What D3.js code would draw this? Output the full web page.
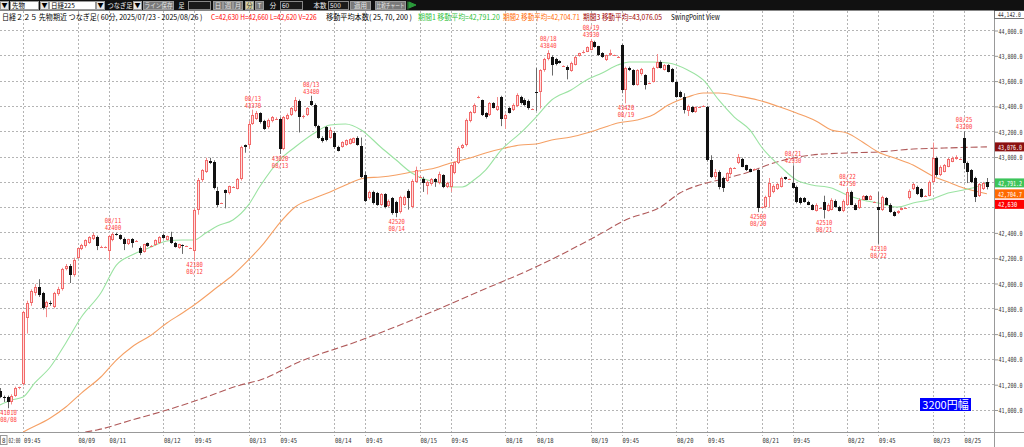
<!DOCTYPE html>
<html><head><meta charset="utf-8">
<script src="https://cdn.jsdelivr.net/npm/d3@7"></script>
<style>
html,body{margin:0;padding:0;background:#fff;overflow:hidden}
svg{display:block}
</style></head><body>
<svg id="c" width="1024" height="447"></svg>
<script>
// ---------- DATA ----------
const opens = [41150,41095,41100,41060,41110,41170,41200,41720,41840,41920,
41970,41920,41810,41845,41810,41915,41955,42110,42135,42065,
42200,42270,42290,42320,42350,42365,42285,42285,42250,42340,
42390,42380,42350,42310,42345,42330,42280,42245,42315,42295,
42300,42315,42380,42340,42365,42320,42275,42300,42290,42275,
42250,42580,42815,42880,42965,42960,42730,42630,42735,42710,
42760,42745,42820,43090,43090,43260,43300,43340,43280,43230,
43280,43300,43300,43060,43300,43330,43360,43440,43310,43330,
43440,43410,43240,43150,43230,43150,43185,43075,43075,43090,
43100,43110,43150,43080,42850,42670,42720,42710,42620,42700,
42610,42670,42640,42560,42620,42730,42600,42800,42840,42825,
42770,42780,42820,42790,42850,42760,42760,42870,42950,43070,
43090,43280,43345,43465,43445,43340,43330,43420,43370,43470,
43300,43385,43370,43400,43470,43450,43440,43375,43510,43510,
43680,43770,43790,43770,43755,43715,43710,43675,43725,43795,
43820,43830,43845,43905,43870,43820,43760,43800,43800,43790,
43880,43525,43700,43685,43565,43650,43645,43580,43590,43700,
43750,43685,43720,43690,43590,43510,43470,43360,43390,43350,
43390,43400,43390,42970,42840,42880,42830,42810,42860,42910,
42950,42980,42930,42900,42900,42890,42600,42600,42680,42720,
42740,42760,42835,42820,42790,42760,42670,42670,42640,42620,
42570,42590,42640,42570,42580,42650,42600,42570,42620,42720,
42620,42590,42660,42690,42660,42640,42600,42580,42670,42620,
42560,42550,42580,42590,42670,42740,42760,42740,42690,42690,
42800,42990,42850,42880,42920,42960,42980,42980,43150,42950,
42890,42830,42690,42740,42800];
const highs = [41170,41110,41110,41120,41180,41180,41780,41860,41950,41990,
42030,41930,41860,41860,41930,41970,42120,42150,42150,42200,
42280,42310,42345,42370,42395,42375,42295,42290,42380,42400,
42395,42385,42360,42350,42355,42340,42290,42310,42320,42300,
42345,42370,42390,42375,42405,42325,42310,42305,42295,42280,
42590,42830,42900,42990,42990,42970,42760,42635,42740,42770,
42765,42830,43085,43095,43280,43370,43360,43350,43290,43300,
43320,43310,43310,43320,43340,43390,43470,43450,43330,43390,
43480,43420,43250,43160,43240,43230,43200,43085,43120,43135,
43145,43150,43160,43150,42880,42730,42730,42720,42710,42710,
42660,42680,42650,42690,42690,42740,42820,42920,42850,42840,
42810,42830,42830,42880,42860,42800,42940,42960,43080,43100,
43300,43360,43420,43480,43450,43350,43430,43430,43470,43480,
43340,43390,43420,43500,43480,43460,43450,43380,43700,43690,
43780,43840,43800,43780,43760,43720,43720,43750,43800,43820,
43840,43870,43930,43915,43875,43825,43805,43845,43805,43795,
43890,43710,43710,43690,43690,43700,43650,43585,43710,43810,
43760,43730,43730,43700,43600,43520,43500,43410,43400,43395,
43395,43405,43400,43010,42900,42890,42840,42875,42915,42915,
43020,42990,42935,42905,42905,42900,42605,42690,42830,42780,
42790,42840,42840,42825,42930,42770,42680,42680,42650,42625,
42630,42595,42690,42630,42670,42660,42610,42660,42750,42730,
42630,42670,42695,42695,42695,42645,42720,42690,42680,42630,
42570,42575,42595,42595,42740,42790,42770,42750,42695,42810,
43110,43000,42930,42940,42990,43000,43010,42985,43200,42960,
42900,42840,42790,42800,42830];
const lows = [41090,41060,41010,41040,41100,41160,41190,41600,41820,41900,
41890,41790,41730,41820,41800,41900,41940,42100,42000,42050,
42190,42260,42280,42310,42340,42260,42280,42275,42180,42330,
42375,42340,42260,42300,42280,42325,42220,42240,42285,42290,
42295,42310,42350,42335,42310,42280,42270,42230,42285,42270,
42180,42540,42800,42870,42940,42740,42600,42625,42590,42700,
42755,42740,42810,43030,43060,43250,43290,43260,43210,43220,
43270,43290,43020,43050,43290,43320,43350,43190,43300,43320,
43400,43230,43140,43110,43120,43140,43060,43040,43070,43085,
43095,43105,43085,42830,42640,42660,42620,42610,42610,42590,
42600,42540,42520,42550,42610,42580,42590,42790,42830,42720,
42700,42770,42760,42780,42750,42750,42720,42860,42940,43060,
43080,43270,43340,43460,43320,43300,43320,43380,43360,43240,
43220,43340,43360,43390,43410,43400,43370,43370,43360,43380,
43670,43760,43640,43720,43735,43710,43610,43670,43720,43790,
43815,43825,43840,43860,43795,43780,43755,43795,43795,43785,
43500,43420,43675,43560,43560,43640,43530,43575,43585,43695,
43695,43680,43665,43585,43465,43465,43340,43320,43345,43345,
43385,43395,42960,42830,42820,42740,42720,42800,42850,42905,
42940,42915,42885,42875,42895,42560,42595,42590,42600,42710,
42735,42755,42815,42815,42745,42630,42620,42635,42615,42575,
42565,42585,42510,42565,42575,42595,42565,42560,42610,42615,
42575,42585,42655,42655,42655,42635,42310,42570,42615,42555,
42525,42545,42575,42585,42660,42735,42695,42675,42685,42685,
42790,42840,42845,42875,42915,42955,42975,42975,42900,42790,
42790,42640,42680,42735,42740];
const closes = [41100,41090,41060,41110,41170,41175,41770,41840,41940,41970,
41905,41800,41850,41840,41920,41955,42110,42135,42065,42180,
42275,42300,42340,42360,42380,42290,42285,42285,42370,42390,
42380,42350,42310,42345,42315,42335,42235,42305,42290,42295,
42340,42365,42355,42370,42315,42285,42305,42290,42290,42275,
42580,42815,42893,42970,42950,42750,42615,42630,42710,42765,
42760,42820,43075,43075,43260,43330,43340,43270,43220,43290,
43310,43300,43060,43310,43330,43380,43450,43310,43320,43380,
43410,43240,43150,43120,43130,43210,43075,43045,43115,43130,
43140,43145,43090,42840,42650,42720,42630,42620,42700,42600,
42650,42550,42550,42680,42680,42670,42810,42890,42840,42790,
42800,42820,42800,42860,42760,42790,42930,42955,43070,43090,
43290,43350,43410,43470,43330,43310,43420,43385,43400,43300,
43330,43345,43410,43490,43420,43405,43380,43375,43500,43680,
43770,43820,43720,43730,43740,43715,43685,43740,43790,43815,
43830,43865,43915,43865,43800,43785,43800,43820,43800,43790,
43525,43700,43680,43565,43685,43690,43565,43580,43700,43750,
43700,43725,43670,43590,43470,43470,43370,43400,43350,43390,
43390,43400,42970,42840,42880,42760,42750,42870,42910,42910,
43000,42920,42890,42880,42900,42590,42600,42680,42790,42770,
42780,42830,42820,42820,42750,42640,42630,42640,42620,42580,
42620,42590,42580,42620,42660,42600,42570,42650,42720,42620,
42580,42660,42690,42660,42690,42640,42580,42680,42620,42560,
42530,42570,42590,42590,42730,42780,42700,42680,42690,42800,
42990,42850,42920,42930,42980,42990,43000,42980,42950,42880,
42800,42680,42780,42790,42760];

// moving averages (bar index, value)
const ma25Idx = [0,3,6,9,13,17,21,26,30,34,39,43,47,50,53,56,60,64,67,72,76,81,85,89,93,98,102,106,110,113,116,119,122,125,129,134,138,142,147,151,155,159,162,168,172,177,181,185,189,193,196,201,205,209,214,218,222,226,231,235,240,244,248,252,254];
const ma25Val = [41036,41075,41099,41210,41336,41526,41731,41921,42142,42221,42285,42332,42340,42340,42395,42451,42498,42617,42767,42972,43075,43186,43249,43257,43210,43075,42972,42870,42814,42798,42759,42759,42814,42893,43051,43186,43312,43447,43526,43605,43660,43723,43747,43747,43739,43684,43605,43447,43312,43210,43075,42917,42814,42775,42751,42696,42656,42632,42601,42632,42664,42711,42735,42767,42791];
const ma70Idx = [6,7,13,17,21,26,30,34,39,43,47,50,56,60,64,68,72,76,81,85,89,94,98,102,106,112,116,121,125,130,134,138,142,147,151,155,159,164,168,172,177,181,185,190,195,200,205,210,214,218,222,226,231,235,240,244,248,252,254];
const ma70Val = [40822,40838,40933,41020,41130,41257,41391,41494,41589,41684,41763,41826,41968,42063,42182,42316,42474,42601,42672,42719,42775,42830,42838,42854,42877,42909,42949,42988,43028,43067,43091,43099,43130,43154,43186,43225,43265,43289,43328,43407,43470,43502,43502,43478,43447,43399,43344,43281,43210,43186,43115,43036,42980,42933,42846,42798,42751,42719,42705];
const ma200Idx = [22,25,34,43,51,62,67,77,93,108,123,139,154,161,170,175,180,185,192,200,209,218,226,235,243,254];
const ma200Val = [40822,40838,40917,40996,41075,41194,41233,41376,41549,41731,41929,42142,42379,42498,42601,42711,42775,42814,42870,42957,43012,43028,43036,43059,43067,43076];

// axis ticks
const priceTicks = [41000,41200,41400,41600,41800,42000,42200,42400,42600,42800,43000,43200,43400,43600,43800,44000];
const tickIdx = [6,20,28,42,50,64,72,86,94,108,116,130,138,152,160,174,182,196,204,218,226,240,248];
const tickLabels = ["09:45","08/09","08/11","08/12","09:45","08/13","09:45","08/14","09:45","08/15","09:45","08/16","08/18","08/19","09:45","08/20","09:45","08/21","09:45","08/22","09:45","08/23","08/25"];

// swing points
const swingIdx   = [2,29,50,65,72,80,102,141,152,161,195,204,212,218,226,248];
const swingDate  = ["08/08","08/11","08/12","08/13","08/13","08/13","08/14","08/18","08/19","08/19","08/20","08/21","08/21","08/22","08/22","08/25"];
const swingPrice = [41010,42400,42180,43370,43020,43480,42520,43840,43930,43420,42560,42930,42510,42750,42310,43200];
const swingType  = ["L","H","L","H","L","H","L","H","H","L","L","H","L","H","L","H"];

// price tags on the right axis
const tagLabels = ["43,076.0","42,791.2","42,704.7","42,630"];
const tagValues = [43076.05,42791.20,42704.71,42630];
const tagColors = ["#8b1010","#3cc45a","#ff6a00","#ff0000"];

// header
const headerTexts = ["日経２２５ 先物期近 つなぎ足( 60分, 2025/07/23 - 2025/08/26 )","C=42,630 H=42,660 L=42,620 V=226","移動平均本数( 25, 70, 200 )","期間1 移動平均=42,791.20","期間2 移動平均=42,704.71","期間3 移動平均=43,076.05","SwingPoint View"];
const headerX0 = [2,211,326,418,503,583,671];
const headerX1 = [203,317,412,500,580,662,720];
const headerColors = ["#000","#ff0000","#000","#2fbf3a","#ff6a00","#a00000","#000"];

// ---------- DRAW ----------
const W = 1024, H = 447, plotR = 994, plotT = 11, plotB = 432;
const svg = d3.select("#c");
const x = d3.scaleLinear().domain([42, 218]).range([163, 847]);
const y = d3.scaleLinear().domain([41000, 44000]).range([409.5, 30]);
const mono = '"DejaVu Sans Mono","Liberation Mono",monospace';
const jp = '"Noto Sans CJK JP","Noto Sans",sans-serif';

// squeeze a text horizontally to a target width (keeps its anchor point)
function squeeze(sel, w) {
  sel.each(function () {
    const n = this.getComputedTextLength();
    if (!n) return;
    const target = typeof w === "function" ? w(this) : w;
    const s = Math.min(1, target / n);
    const tx = +(this.getAttribute("x") || 0), ty = +(this.getAttribute("y") || 0);
    this.setAttribute("x", 0); this.setAttribute("y", 0);
    this.setAttribute("transform", `translate(${tx},${ty}) scale(${s},1)`);
  });
}

svg.append("rect").attr("width", W).attr("height", H).attr("fill", "#fff");
svg.append("defs").append("clipPath").attr("id", "pc")
  .append("rect").attr("x", 0).attr("y", plotT).attr("width", plotR).attr("height", plotB - plotT);

// price tags positions (stacked so they do not overlap)
const tags = tagValues.map((v, k) => ({k, yv: y(v)})).sort((a, b) => a.yv - b.yv);
for (let k = 1; k < tags.length; k++) tags[k].yv = Math.max(tags[k].yv, tags[k - 1].yv + 10.5);

// grid
const grid = svg.append("g").attr("stroke", "#b4b4b4").attr("stroke-dasharray", "2,2");
grid.selectAll(".gh").data(priceTicks).join("line").attr("class", "gh")
  .attr("x1", 0).attr("x2", plotR)
  .attr("y1", d => Math.round(y(d)) + 0.5).attr("y2", d => Math.round(y(d)) + 0.5);
grid.selectAll(".gv").data(tickIdx).join("line").attr("class", "gv")
  .attr("x1", d => Math.round(x(d)) + 0.5).attr("x2", d => Math.round(x(d)) + 0.5)
  .attr("y1", plotT).attr("y2", plotB + 4);

// axes
const gx = svg.append("g").attr("transform", `translate(0,${plotB})`)
  .call(d3.axisBottom(x).tickValues(tickIdx).tickFormat((d, i) => tickLabels[i]).tickSize(0));
gx.select(".domain").remove();
gx.selectAll("text").attr("text-anchor", "start").attr("dy", null).attr("y", 11)
  .attr("x", 0.5).attr("fill", "#333").attr("font-family", mono).attr("font-size", 7);
squeeze(gx.selectAll("text"), 16.5);

const gy = svg.append("g").attr("transform", `translate(${plotR},0)`)
  .call(d3.axisRight(y).tickValues(priceTicks).tickFormat(d3.format(",.1f")).tickSize(4).tickPadding(0.5));
gy.select(".domain").remove();
gy.selectAll("line").attr("stroke", "#999").attr("transform", "translate(0,0.5)");
gy.selectAll("text").attr("fill", "#333").attr("font-family", mono).attr("font-size", 7)
  .attr("dy", null).attr("y", 3)
  .style("display", d => tags.some(t => Math.abs(t.yv - y(d)) < 7) ? "none" : null);
squeeze(gy.selectAll("text"), 24);

svg.append("line").attr("x1", 0).attr("x2", W).attr("y1", plotB + 0.5).attr("y2", plotB + 0.5).attr("stroke", "#999");
svg.append("line").attr("x1", plotR + 0.5).attr("x2", plotR + 0.5).attr("y1", plotT).attr("y2", H).attr("stroke", "#999");

// moving averages
const pg = svg.append("g").attr("clip-path", "url(#pc)");
const line = d3.line().x(d => x(d[0])).y(d => y(d[1])).curve(d3.curveMonotoneX);
pg.append("path").datum(d3.zip(ma200Idx, ma200Val)).attr("d", line).attr("fill", "none")
  .attr("stroke", "#b05a5a").attr("stroke-width", 1.1).attr("stroke-dasharray", "7,3");
pg.append("path").datum(d3.zip(ma70Idx, ma70Val)).attr("d", line).attr("fill", "none")
  .attr("stroke", "#f5a065").attr("stroke-width", 1.1);
pg.append("path").datum(d3.zip(ma25Idx, ma25Val)).attr("d", line).attr("fill", "none")
  .attr("stroke", "#9be3a2").attr("stroke-width", 1.1);

// candles
const bars = d3.range(closes.length).map(i => ({i, o: opens[i], h: highs[i], l: lows[i], c: closes[i]}));
const up = d => d.c >= d.o;
const px = d => Math.round(x(d.i));
pg.selectAll(".wick").data(bars).join("line").attr("class", "wick")
  .attr("x1", d => px(d) + 0.5).attr("x2", d => px(d) + 0.5)
  .attr("y1", d => y(d.h)).attr("y2", d => y(d.l))
  .attr("stroke", d => up(d) ? "#f38a8a" : "#6a6a6a");
pg.selectAll(".body").data(bars).join("rect").attr("class", "body")
  .each(function (d) {
    const top = Math.round(y(Math.max(d.o, d.c)));
    const bot = Math.round(y(Math.min(d.o, d.c)));
    const h = Math.max(1, bot - top);
    const s = d3.select(this);
    if (up(d) && h >= 3) {
      s.attr("x", px(d) - 0.5).attr("y", top + 0.5).attr("width", 2).attr("height", h - 1)
        .attr("fill", "#ffdede").attr("stroke", "#f26a6a");
    } else {
      s.attr("x", px(d) - 1).attr("y", top).attr("width", 3).attr("height", h)
        .attr("fill", up(d) ? "#f26a6a" : "#111");
    }
  });

// swing labels
const sw = svg.append("g").attr("fill", "#ff3c3c").attr("font-family", mono).attr("font-size", 7)
  .attr("text-anchor", "middle");
swingIdx.forEach((si, k) => {
  const cx = x(si) + 0.5, yy = y(swingPrice[k]);
  const lines = swingType[k] === "H"
    ? [[swingDate[k], yy - 9], [String(swingPrice[k]), yy - 2]]
    : [[String(swingPrice[k]), yy + 7], [swingDate[k], yy + 14]];
  lines.forEach(([t, by]) => sw.append("text").attr("x", Math.max(cx, 8.5)).attr("y", by).text(t));
});
squeeze(sw.selectAll("text"), 16.5);

// right price tags
const tg = svg.append("g");
tags.forEach(t => {
  tg.append("rect").attr("x", plotR + 1).attr("y", t.yv - 4.5).attr("width", W - plotR - 1).attr("height", 9)
    .attr("fill", tagColors[t.k]);
  tg.append("text").attr("class", "tagt").attr("x", plotR + 4).attr("y", t.yv + 3).text(tagLabels[t.k])
    .attr("fill", "#fff").attr("font-family", mono).attr("font-size", 7);
});
squeeze(tg.selectAll(".tagt"), el => Math.min(24, el.textContent.length * 3.2));
// top range label
tg.append("rect").attr("x", plotR + 0.5).attr("y", 10.5).attr("width", 40).attr("height", 8)
  .attr("fill", "#fff").attr("stroke", "#777");
squeeze(tg.append("text").attr("x", plotR + 4).attr("y", 17).text(d3.format(",.1f")(44142))
  .attr("fill", "#333").attr("font-family", mono).attr("font-size", 6.5), 23);

// 3200円幅 box
svg.append("rect").attr("x", 919.5).attr("y", 397.5).attr("width", 52).attr("height", 14)
  .attr("fill", "#0000ff").attr("stroke", "#fff");
svg.append("text").attr("x", 945.5).attr("y", 408.5).attr("text-anchor", "middle").text("3200円幅")
  .attr("fill", "#fff").attr("font-family", jp).attr("font-size", 11);

// bottom-left cursor tag
svg.append("rect").attr("x", 0.5).attr("y", 435.5).attr("width", 6.5).attr("height", 9).attr("fill", "none").attr("stroke", "#999");
squeeze(svg.append("text").attr("x", 2).attr("y", 443).text("8").attr("fill", "#333").attr("font-family", mono).attr("font-size", 7), 3.5);
squeeze(svg.append("text").attr("x", 8.5).attr("y", 443).text("02:00").attr("fill", "#333").attr("font-family", mono)
  .attr("font-size", 7), 12);

// header
const hg = svg.append("g").attr("font-size", 7.5);
headerTexts.forEach((t, k) => {
  squeeze(hg.append("text").attr("x", headerX0[k]).attr("y", 19.5).text(t).attr("fill", headerColors[k])
    .attr("font-family", jp), headerX1[k] - headerX0[k]);
});

// toolbar
const tb = svg.append("g");
tb.append("rect").attr("x", 0).attr("y", 0).attr("width", W).attr("height", 10.5).attr("fill", "#111");
const tools = [
  ["arrow", 0, 8, "▼"], ["field", 10, 28, "先物"], ["arrow", 40, 8, "▼"], ["field", 49, 46, "日経225"],
  ["arrow", 96, 8, "▼"], ["label", 106, 27, "つなぎ足"], ["arrow", 133, 8, "▼"], ["btn", 143, 30, "ライン保存"],
  ["label", 177, 8, "足"], ["dark", 188, 22, ""], ["btn", 213, 9, "日"], ["btn", 223, 9, "週"], ["btn", 233, 9, "月"],
  ["hi", 245, 8, "分"], ["btn", 255, 8, "T"], ["label", 268, 9, "分"], ["dark", 280, 22, "60"], ["label", 312, 15, "本数"],
  ["dark", 328, 20, "500"], ["btn", 350, 20, "適用"], ["btn", 375, 30, "比較チャート"]
];
tools.forEach(([k, tx, tw, t]) => {
  const bg = {arrow: "#e8e8e8", field: "#fff", btn: "#7a7a7a", dark: "#1a1a1a", hi: "#d8d0a0", label: null}[k];
  if (bg) tb.append("rect").attr("x", tx + 0.5).attr("y", 1.5).attr("width", tw).attr("height", 8)
    .attr("fill", bg).attr("stroke", k === "dark" ? "#888" : "#999");
  if (t) squeeze(tb.append("text").attr("x", k === "field" || k === "dark" ? tx + 2 : tx + tw / 2 + 0.5).attr("y", 8)
    .attr("text-anchor", k === "field" || k === "dark" ? "start" : "middle").text(t)
    .attr("fill", k === "field" || k === "arrow" ? "#000" : (k === "btn" ? "#e6e6e6" : (k === "hi" ? "#333" : "#eee")))
    .attr("font-family", jp).attr("font-size", 6.5), tw - 2);
});
tb.append("path").attr("d", "M408,1.5 L408,9.5 M409,2 L416,5 L409,8 Z").attr("stroke", "#2a9a3a").attr("fill", "#2a9a3a");
</script>
</body></html>
